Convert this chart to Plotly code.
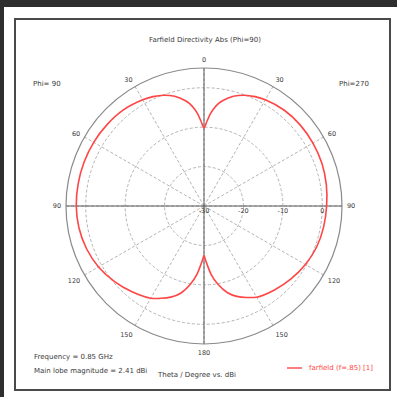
import plotly.graph_objects as go

# Farfield cut, Phi = 90 / 270 plane (theta in degrees, directivity in dBi)
theta_deg = [0, 2, 4, 6, 8, 10, 15, 20, 25, 30, 40, 50, 60, 70, 80, 90,
             100, 110, 120, 130, 140, 150, 160, 165, 170, 174, 178, 180]
# Phi = 90 half (drawn on the left)
dir_phi90 = [-10.2, -8.5, -6.5, -5.0, -3.8, -2.9, -1.2, -0.1, 0.6, 1.1, 1.8,
             2.1, 2.3, 2.38, 2.41, 2.4, 2.2, 1.7, 0.9, -0.3, -1.6, -3.0,
             -5.4, -7.1, -9.8, -12.5, -16.0, -17.5]
# Phi = 270 half (drawn on the right)
dir_phi270 = [-10.2, -8.5, -6.5, -5.0, -3.8, -2.9, -1.2, -0.1, 0.6, 1.1, 1.7,
              1.9, 1.9, 1.8, 1.5, 1.1, 0.8, 0.4, -0.3, -1.2, -2.2, -3.3,
              -5.6, -7.3, -9.9, -12.5, -16.0, -17.5]

angle_ticks = [0, 30, 60, 90, 120, 150, 180, 210, 240, 270, 300, 330]
angle_labels = ["0", "30", "60", "90", "120", "150", "180",
                "150", "120", "90", "60", "30"]
radial_ticks = [-30, -20, -10, 0]
r_min, r_max = -30, 5

W = H = 397
FONT = "DejaVu Sans"
TXT = "#3a3a3a"
RED = "#ff4545"
GRID = "#b4b4b4"


def px(x):
    return x / W


def py(y):
    return 1 - y / H


# right half: Phi=270 side, left half: Phi=90 side (mirrored)
ang = list(theta_deg) + [360 - t for t in reversed(theta_deg)]
rr = list(dir_phi270) + list(reversed(dir_phi90))

fig = go.Figure()

# solid cross through the centre (0-180 and 90-90 spokes)
for a in (0, 90):
    fig.add_trace(go.Scatterpolar(
        r=[r_max, r_min, r_max], theta=[a, 0, a + 180],
        mode="lines", line=dict(color="#5a5a5a", width=1),
        hoverinfo="skip", showlegend=False))

fig.add_trace(go.Scatterpolar(
    r=rr, theta=ang, mode="lines",
    line=dict(color=RED, width=1.6, shape="spline", smoothing=0.8),
    name="farfield (f=.85) [1]", showlegend=False))

cx0, cx1 = 66, 342
cy0, cy1 = 68, 344

fig.update_layout(
    width=W, height=H,
    margin=dict(l=0, r=0, t=0, b=0),
    paper_bgcolor="#2e2e2e",
    plot_bgcolor="white",
    font=dict(family=FONT, size=6, color=TXT),
    polar=dict(
        domain=dict(x=[px(cx0), px(cx1)], y=[py(cy1), py(cy0)]),
        bgcolor="white",
        angularaxis=dict(
            rotation=90, direction="clockwise",
            tickmode="array", tickvals=angle_ticks, ticktext=angle_labels,
            showline=True, linecolor="#8a8a8a", linewidth=1.2,
            gridcolor=GRID, griddash="3px,2px", gridwidth=1,
            ticks="outside", ticklen=3, tickcolor="rgba(0,0,0,0)",
            tickfont=dict(size=6.5, color=TXT, family=FONT)),
        radialaxis=dict(
            range=[r_min, r_max], tickmode="array", tickvals=radial_ticks,
            ticktext=[str(v) for v in radial_ticks],
            angle=0, tickangle=0, side="clockwise",
            showline=False, ticks="",
            gridcolor=GRID, griddash="3px,2px", gridwidth=1,
            tickfont=dict(size=6.5, color=TXT, family=FONT)),
    ),
    shapes=[
        dict(type="rect", xref="paper", yref="paper",
             x0=px(4), x1=1, y0=0, y1=py(7),
             fillcolor="white", line=dict(width=0), layer="below"),
        dict(type="rect", xref="paper", yref="paper",
             x0=px(15), x1=px(390), y0=py(390), y1=py(19),
             fillcolor="rgba(0,0,0,0)", line=dict(color="#4a4a4a", width=2),
             layer="above"),
        dict(type="line", xref="paper", yref="paper",
             x0=px(287), x1=px(302), y0=py(368), y1=py(368),
             line=dict(color=RED, width=1.4)),
    ],
)

notes = [
    ("Farfield Directivity Abs (Phi=90)", 205, 40, "center"),
    ("Phi= 90", 47, 84, "center"),
    ("Phi=270", 354, 84, "center"),
    ("Frequency = 0.85 GHz", 32, 357, "left"),
    ("Main lobe magnitude = 2.41 dBi", 32, 371, "left"),
    ("Theta / Degree vs. dBi", 196, 375, "center"),
]
for txt, x, y, anc in notes:
    fig.add_annotation(text=txt, x=px(x), y=py(y), xref="paper", yref="paper",
                       showarrow=False, xanchor=anc, yanchor="middle",
                       font=dict(size=7, color=TXT, family=FONT))

fig.add_annotation(text="farfield (f=.85) [1]", x=px(307), y=py(368),
                   xref="paper", yref="paper", showarrow=False,
                   xanchor="left", yanchor="middle",
                   font=dict(size=7, color=RED, family=FONT))

fig.write_html("out.html")
